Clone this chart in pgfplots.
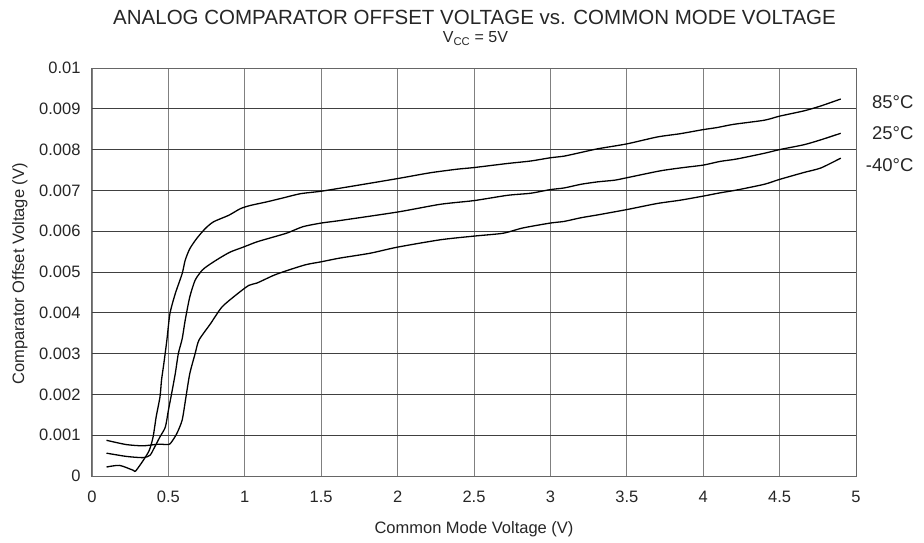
\documentclass[border=0pt]{standalone}
\usepackage{fontspec}
\setmainfont{Liberation Sans}
\usepackage{pgfplots}
\pgfplotsset{compat=1.18}
\begin{document}
\begin{tikzpicture}[x=1pt,y=1pt]
\begin{axis}[
  at={(92pt,66pt)}, anchor=south west, scale only axis,
  width=764pt, height=408pt,
  xmin=0, xmax=5, ymin=0, ymax=0.01,
  xtick={0,0.5,1,1.5,2,2.5,3,3.5,4,4.5,5},
  xticklabels={0,0.5,1,1.5,2,2.5,3,3.5,4,4.5,5},
  ytick={0,0.001,0.002,0.003,0.004,0.005,0.006,0.007,0.008,0.009,0.01},
  yticklabels={0,0.001,0.002,0.003,0.004,0.005,0.006,0.007,0.008,0.009,0.01},
  scaled y ticks=false,
  major tick length=0pt,
  tick style={draw=none},
  grid=major,
  major grid style={line width=0.9pt},
  every axis x grid/.append style={black!50},
  every axis y grid/.append style={black!75},
  axis line style={black!60, line width=1pt},
  tick label style={font=\fontsize{16.5}{19}\selectfont, text=black!85},
  yticklabel style={xshift=-8pt},
  xticklabel style={yshift=-11.5pt},
  clip=false,
]
% 85 C
\addplot[black, line width=1.3pt, smooth, tension=0.4] coordinates {
(0.095,0.00022) (0.18,0.00026) (0.27,0.00014) (0.285,0.00012) (0.335,0.00038)
(0.375,0.00063) (0.40,0.00096) (0.42,0.00145) (0.445,0.00194) (0.455,0.00235)
(0.47,0.00275) (0.49,0.00333) (0.51,0.00398) (0.545,0.00447) (0.59,0.00496)
(0.61,0.00529) (0.64,0.00557) (0.685,0.00582) (0.74,0.00606) (0.795,0.00623)
(0.895,0.00639) (0.97,0.00655) (1.035,0.00663) (1.145,0.00672) (1.255,0.00682)
(1.365,0.00692) (1.5,0.00698) (1.73,0.00712) (2.0,0.00729) (2.21,0.00743)
(2.39,0.00752) (2.5,0.00756) (2.72,0.00766) (2.87,0.00772) (3.0,0.00780)
(3.09,0.00784) (3.2,0.00793) (3.31,0.00802) (3.5,0.00814) (3.70,0.00831)
(3.85,0.00839) (4.0,0.00849) (4.09,0.00854) (4.2,0.00862) (4.40,0.00872)
(4.5,0.00882) (4.66,0.00895) (4.77,0.00907) (4.9,0.00924)
};
% 25 C
\addplot[black, line width=1.3pt, smooth, tension=0.4] coordinates {
(0.095,0.00056) (0.225,0.00048) (0.335,0.00045) (0.38,0.00051) (0.41,0.00071)
(0.445,0.00096) (0.48,0.0012) (0.50,0.00161) (0.52,0.0020) (0.545,0.00251)
(0.565,0.0030) (0.59,0.00336) (0.61,0.00382) (0.64,0.00439) (0.675,0.0048)
(0.72,0.00504) (0.76,0.00516) (0.83,0.00533) (0.905,0.00549) (0.99,0.00561)
(1.08,0.00574) (1.19,0.00586) (1.28,0.00596) (1.38,0.00611) (1.5,0.0062)
(1.62,0.00626) (2.0,0.00647) (2.28,0.00666) (2.5,0.00675) (2.72,0.00688)
(2.87,0.00693) (3.0,0.00702) (3.09,0.00706) (3.2,0.00715) (3.31,0.00721)
(3.42,0.00725) (3.5,0.00731) (3.72,0.00748) (3.87,0.00756) (4.0,0.00762)
(4.11,0.00771) (4.22,0.00777) (4.40,0.00791) (4.5,0.0080) (4.66,0.00812)
(4.77,0.00824) (4.9,0.0084)
};
% -40 C
\addplot[black, line width=1.3pt, smooth, tension=0.4] coordinates {
(0.095,0.000875) (0.225,0.00077) (0.335,0.00074) (0.435,0.00078) (0.5,0.00077)
(0.52,0.00083) (0.555,0.00104) (0.59,0.00137) (0.615,0.00194) (0.64,0.00251)
(0.675,0.0030) (0.70,0.00333) (0.775,0.00373) (0.85,0.00414) (0.94,0.00443)
(1.025,0.00467) (1.08,0.00473) (1.19,0.00492) (1.28,0.00504) (1.40,0.00518)
(1.5,0.00525) (1.62,0.00534) (1.82,0.00546) (2.0,0.00561) (2.28,0.00579)
(2.5,0.00588) (2.69,0.00595) (2.82,0.00608) (3.0,0.0062) (3.09,0.00624)
(3.2,0.00633) (3.31,0.0064) (3.5,0.00653) (3.70,0.00668) (3.85,0.00676)
(4.0,0.00686) (4.11,0.00694) (4.22,0.00701) (4.40,0.00715) (4.5,0.00727)
(4.66,0.00744) (4.77,0.00755) (4.9,0.00779)
};
\end{axis}
\node[anchor=base, font=\fontsize{20.5}{24}\selectfont, text=black!85] at (474.5,517) {ANALOG COMPARATOR OFFSET VOLTAGE vs. COMMON MODE VOLTAGE};
\node[anchor=base, font=\fontsize{16}{19}\selectfont, text=black!85] at (475.5,499.3) {V\textsubscript{CC} = 5V};
\node[anchor=base, font=\fontsize{16.5}{19}\selectfont, text=black!85] at (474,9) {Common Mode Voltage (V)};
\node[anchor=base, rotate=90, font=\fontsize{16.5}{19}\selectfont, text=black!85] at (24,268) {Comparator Offset Voltage (V)};
\node[anchor=base east, font=\fontsize{18.5}{22}\selectfont, text=black!85] at (917,433.7) {85°C};
\node[anchor=base east, font=\fontsize{18.5}{22}\selectfont, text=black!85] at (917,402) {25°C};
\node[anchor=base east, font=\fontsize{18.5}{22}\selectfont, text=black!85] at (917,370.3) {-40°C};
\pgfresetboundingbox
\path (0,0) rectangle (924,542);
\end{tikzpicture}
\end{document}
